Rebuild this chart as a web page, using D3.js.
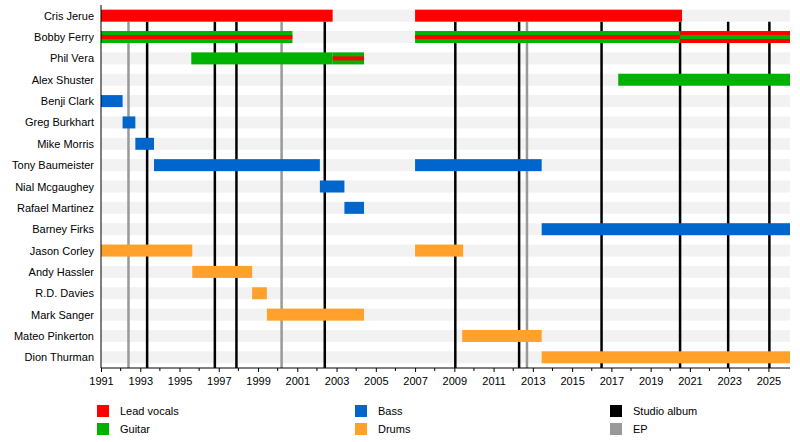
<!DOCTYPE html>
<html><head><meta charset="utf-8">
<script src="https://cdn.jsdelivr.net/npm/d3@7"></script>
<style>body{margin:0;background:#fff}text{font-family:"Liberation Sans",Arial,sans-serif}</style>
</head><body>
<svg id="chart" width="800" height="442"></svg>
<script>
// Members, top to bottom
var members = ["Cris Jerue","Bobby Ferry","Phil Vera","Alex Shuster","Benji Clark","Greg Burkhart","Mike Morris","Tony Baumeister","Nial Mcgaughey","Rafael Martinez","Barney Firks","Jason Corley","Andy Hassler","R.D. Davies","Mark Sanger","Mateo Pinkerton","Dion Thurman"];

// Spans: [member, start, end, role, secondary role (stripe)]
var spans = [
  ["Cris Jerue",1991,2002.8,"vocals",null],
  ["Cris Jerue",2007,2020.6,"vocals",null],
  ["Bobby Ferry",1991,2000.75,"guitar","vocals"],
  ["Bobby Ferry",2007,2020.5,"guitar","vocals"],
  ["Bobby Ferry",2020.5,2026.1,"vocals","guitar"],
  ["Phil Vera",1995.6,2002.8,"guitar",null],
  ["Phil Vera",2002.8,2004.4,"guitar","vocals"],
  ["Alex Shuster",2017.35,2026.1,"guitar",null],
  ["Benji Clark",1991,1992.1,"bass",null],
  ["Greg Burkhart",1992.1,1992.75,"bass",null],
  ["Mike Morris",1992.75,1993.7,"bass",null],
  ["Tony Baumeister",1993.7,2002.15,"bass",null],
  ["Tony Baumeister",2007,2013.45,"bass",null],
  ["Nial Mcgaughey",2002.15,2003.4,"bass",null],
  ["Rafael Martinez",2003.4,2004.4,"bass",null],
  ["Barney Firks",2013.45,2026.1,"bass",null],
  ["Jason Corley",1991,1995.65,"drums",null],
  ["Jason Corley",2007,2009.45,"drums",null],
  ["Andy Hassler",1995.65,1998.7,"drums",null],
  ["R.D. Davies",1998.7,1999.45,"drums",null],
  ["Mark Sanger",1999.45,2004.4,"drums",null],
  ["Mateo Pinkerton",2009.4,2013.45,"drums",null],
  ["Dion Thurman",2013.45,2026.1,"drums",null]
];

var studioAlbums = [1993.35,1996.8,1997.9,2002.4,2009.05,2012.3,2016.5,2020.5,2022.95,2025.05];
var eps = [1992.4,2000.2,2012.7];

var roles = ["vocals","guitar","bass","drums"];
var roleColors = {vocals:"#ff0000",guitar:"#00b200",bass:"#0066cc",drums:"#ffa12a"};
var legendItems = [["Lead vocals","#ff0000"],["Guitar","#00b200"],["Bass","#0066cc"],["Drums","#ffa12a"],["Studio album","#000000"],["EP","#999999"]];
var tickYears = d3.range(1991,2026,2);

var svg = d3.select("#chart");
var margin = {top:5, left:101, right:10};
var x = d3.scaleLinear().domain([1991,2026.1]).range([101,790]);
var y = d3.scaleBand().domain(members).range([5,368]).paddingInner(0);

// row bands
svg.selectAll(".band").data(members).enter().append("rect")
  .attr("x",x(1991)).attr("width",x(2026.1)-x(1991))
  .attr("y",d=>y(d)+y.bandwidth()/2-6).attr("height",12)
  .attr("fill","#f2f2f2");

// EP and album lines
svg.selectAll(".ep").data(eps).enter().append("line")
  .attr("x1",d=>x(d)).attr("x2",d=>x(d)).attr("y1",y(members[0])+y.bandwidth()/2+6).attr("y2",368)
  .attr("stroke","#999").attr("stroke-width",2.5);
svg.selectAll(".alb").data(studioAlbums).enter().append("line")
  .attr("x1",d=>x(d)).attr("x2",d=>x(d)).attr("y1",y(members[0])+y.bandwidth()/2+6).attr("y2",368)
  .attr("stroke","#000").attr("stroke-width",2.5);

// bars
svg.selectAll(".bar").data(spans).enter().append("rect")
  .attr("x",d=>x(d[1])).attr("width",d=>x(d[2])-x(d[1]))
  .attr("y",d=>y(d[0])+y.bandwidth()/2-6).attr("height",12)
  .attr("fill",d=>roleColors[d[3]]);
svg.selectAll(".stripe").data(spans.filter(d=>d[4])).enter().append("rect")
  .attr("x",d=>x(d[1])).attr("width",d=>x(d[2])-x(d[1]))
  .attr("y",d=>y(d[0])+y.bandwidth()/2-2).attr("height",4)
  .attr("fill",d=>roleColors[d[4]]);

// names
svg.selectAll(".name").data(members).enter().append("text")
  .attr("x",94).attr("y",d=>y(d)+y.bandwidth()/2+4)
  .attr("text-anchor","end").attr("font-size",11).attr("fill","#000").text(d=>d);

// axis
var axis = d3.axisBottom(x).tickValues(tickYears).tickFormat(d3.format("d")).tickSize(4);
var g = svg.append("g").attr("transform","translate(0,368)").call(axis);
g.select(".domain").attr("stroke","#000").attr("d","M"+x(1991)+",0H"+x(2026.1));
g.selectAll("text").attr("font-size",11).attr("font-family","Liberation Sans, Arial, sans-serif").attr("dy","0.9em");
svg.selectAll(".minor").data(d3.range(1992,2026,2)).enter().append("line")
  .attr("x1",d=>x(d)).attr("x2",d=>x(d)).attr("y1",368).attr("y2",371).attr("stroke","#000");
svg.append("line").attr("x1",x(1991)).attr("x2",x(1991)).attr("y1",5).attr("y2",368).attr("stroke","#000");

// legend
var lx = [97,355,610];
var lg = svg.selectAll(".leg").data(legendItems).enter().append("g")
  .attr("transform",(d,i)=>{
    var col = i<2?0:(i<4?1:2), row = i%2;
    return "translate("+lx[col]+","+(405+row*18)+")";
  });
lg.append("rect").attr("width",12).attr("height",12).attr("fill",d=>d[1]);
lg.append("text").attr("x",23).attr("y",10).attr("font-size",11).text(d=>d[0]);
</script>
</body></html>
